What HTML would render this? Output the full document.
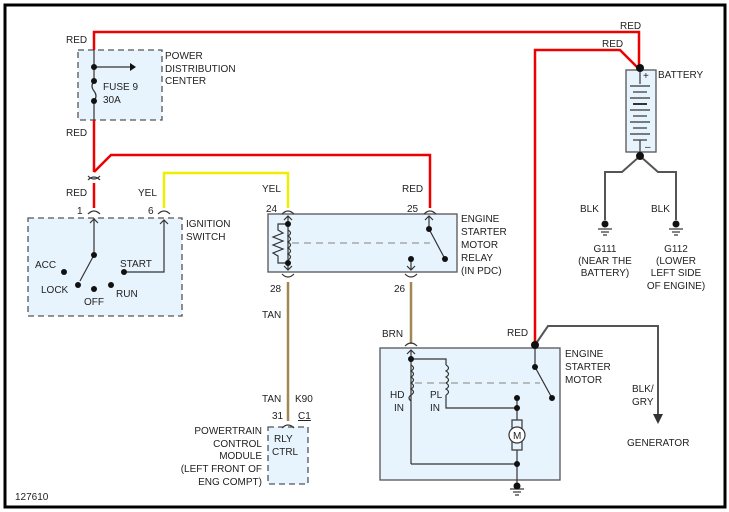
<!DOCTYPE html>
<html><head><meta charset="utf-8"><style>
html,body{margin:0;padding:0;background:#fff;width:729px;height:512px;overflow:hidden}
svg text{font-family:"Liberation Sans",sans-serif;font-size:10px;fill:#222}
</style></head><body>
<svg width="729" height="512" viewBox="0 0 729 512" xmlns="http://www.w3.org/2000/svg">
<rect x="5" y="5" width="720" height="502" fill="#fff" stroke="#000" stroke-width="3"/>
<!-- boxes -->
<g fill="#e8f4fd" stroke="#555" stroke-width="1.3" stroke-dasharray="6,4">
<rect x="78" y="50" width="84" height="70"/>
<rect x="28" y="218" width="154" height="98"/>
<rect x="268" y="427" width="40" height="57"/>
</g>
<g fill="#e8f4fd" stroke="#555" stroke-width="1.3">
<rect x="268" y="214" width="189" height="58"/>
<rect x="380" y="348" width="180" height="132"/>
<rect x="626" y="70" width="30" height="82"/>
</g>
<!-- red wires -->
<g fill="none" stroke="#e00" stroke-width="2.5">
<polyline points="94,50 94,32 639,32 639,70"/>
<polyline points="94,120 94,172"/>
<polyline points="94,172 111,155 430,155 430,208"/>
<polyline points="94,183 94,208"/>
<polyline points="535,345 535,50 620,50 638,68"/>
</g>
<polyline points="164,208 164,173 288,173 288,208" fill="none" stroke="#ee0" stroke-width="2.5"/>
<g stroke="#a08850" stroke-width="2.5" fill="none">
<line x1="288" y1="282" x2="288" y2="421"/>
<line x1="411" y1="282" x2="411" y2="344"/>
</g>
<!-- gray wires -->
<g fill="none" stroke="#555" stroke-width="2">
<polyline points="535,345 548,326 658,326 658,418"/>
<polyline points="640,156 622,172 605,172 605,220"/>
<polyline points="640,156 658,172 676,172 676,220"/>
</g>
<polygon points="653,414 663,414 658,424" fill="#333"/>
<!-- thin black internals -->
<g fill="none" stroke="#333" stroke-width="1.2">
<line x1="94" y1="50" x2="94" y2="81"/><line x1="94" y1="101" x2="94" y2="120"/>
<path d="M94,81 q-4,5 0,10 q4,5 0,10"/>
<line x1="94" y1="67" x2="130" y2="67"/>
<line x1="94" y1="218" x2="94" y2="255"/>
<line x1="94" y1="255" x2="80" y2="281"/>
<polyline points="124,272 164,272 164,220"/>
<polyline points="90,223 94,219 98,223"/><polyline points="160,224 164,220 168,224"/>
<!-- connector arcs -->
<path d="M88,180 q6,-6 12,0 M88,176 q6,6 12,0 M88,214 q6,-6 12,0 M158,214 q6,-6 12,0 M282,214 q6,-6 12,0 M424,214 q6,-6 12,0 M282,274 q6,6 12,0 M405,274 q6,6 12,0 M405,346 q6,-6 12,0 M282,428 q6,-6 12,0"/>
<!-- relay -->
<line x1="288" y1="216" x2="288" y2="270"/>
<polyline points="284,220 288,216 292,220"/><polyline points="284,266 288,270 292,266"/>
<path d="M288,230 q5,3 0,6 q5,3 0,6 q5,3 0,6 q5,3 0,6 q5,3 0,6"/>
<polyline points="288,224 278,224 278,230 283,233 273,237 283,241 273,245 283,249 273,253 278,256 278,263 288,263"/>
<line x1="292" y1="243" x2="430" y2="243" stroke="#999" stroke-dasharray="7,5"/>
<line x1="429" y1="216" x2="429" y2="229"/><polyline points="425,220 429,216 433,220"/>
<line x1="429" y1="229" x2="445" y2="259"/>
<line x1="411" y1="259" x2="411" y2="270"/><polyline points="407,266 411,270 415,266"/>
<!-- starter -->
<line x1="411" y1="350" x2="411" y2="464"/><polyline points="407,354 411,350 415,354"/>
<path d="M411,365 q5,3 0,6 q5,3 0,6 q5,3 0,6 q5,3 0,6 q5,3 0,6 q-4,3 0,6"/>
<polyline points="411,359 446,359 446,365"/>
<path d="M446,365 q5,3 0,6 q5,3 0,6 q5,3 0,6 q5,3 0,6 q5,3 0,6"/>
<polyline points="446,395 446,408 517,408"/>
<line x1="517" y1="398" x2="517" y2="425"/>
<rect x="512" y="420" width="10" height="30" fill="#e8f4fd"/>
<circle cx="517" cy="435" r="8" fill="#fff"/>
<line x1="517" y1="450" x2="517" y2="486"/>
<polyline points="411,464 517,464"/>
<line x1="415" y1="383" x2="540" y2="383" stroke="#999" stroke-dasharray="7,5"/>
<line x1="535" y1="345" x2="535" y2="367"/><line x1="535" y1="367" x2="552" y2="398"/>
<!-- battery -->
<line x1="640" y1="70" x2="640" y2="84"/><line x1="640" y1="140" x2="640" y2="156"/>
</g>
<text x="513" y="439" font-size="11">M</text>
<polygon points="130,63 136,67 130,71" fill="#111"/>
<g stroke="#333" stroke-width="1.2">
<line x1="630" y1="86" x2="650" y2="86"/><line x1="633" y1="92" x2="647" y2="92"/>
<line x1="630" y1="98" x2="650" y2="98"/><line x1="633" y1="104" x2="647" y2="104" stroke-width="2"/>
<line x1="630" y1="110" x2="650" y2="110"/><line x1="633" y1="116" x2="647" y2="116"/>
<line x1="630" y1="122" x2="650" y2="122"/><line x1="633" y1="128" x2="647" y2="128"/>
<line x1="630" y1="134" x2="650" y2="134"/><line x1="633" y1="140" x2="647" y2="140"/>
<!-- grounds -->
<line x1="598" y1="229" x2="612" y2="229"/><line x1="601" y1="232" x2="609" y2="232"/><line x1="603" y1="235" x2="607" y2="235"/>
<line x1="669" y1="229" x2="683" y2="229"/><line x1="672" y1="232" x2="680" y2="232"/><line x1="674" y1="235" x2="678" y2="235"/>
<line x1="510" y1="489" x2="524" y2="489"/><line x1="513" y1="492" x2="521" y2="492"/><line x1="515" y1="495" x2="519" y2="495"/>
</g>
<text x="643" y="79" font-size="9">+</text><text x="645" y="150" font-size="9">–</text>
<!-- dots -->
<g fill="#111">
<circle cx="94" cy="67" r="3"/><circle cx="94" cy="81" r="3"/><circle cx="94" cy="101" r="3"/>
<circle cx="94" cy="255" r="3"/><circle cx="78" cy="285" r="3"/><circle cx="64" cy="272" r="3"/>
<circle cx="94" cy="289" r="3"/><circle cx="111" cy="285" r="3"/><circle cx="124" cy="272" r="3"/>
<circle cx="288" cy="224" r="3"/><circle cx="288" cy="263" r="3"/>
<circle cx="429" cy="229" r="3"/><circle cx="445" cy="259" r="3"/><circle cx="411" cy="259" r="3"/>
<circle cx="411" cy="359" r="3"/><circle cx="517" cy="398" r="3"/><circle cx="517" cy="408" r="3"/>
<circle cx="517" cy="464" r="3"/><circle cx="517" cy="486" r="3.5"/>
<circle cx="535" cy="345" r="4"/><circle cx="535" cy="367" r="3"/><circle cx="552" cy="398" r="3"/>
<circle cx="640" cy="68" r="4"/><circle cx="640" cy="156" r="4"/>
<circle cx="605" cy="224" r="3.5"/><circle cx="676" cy="224" r="3.5"/>
</g>
<!-- labels -->
<text x="66" y="43">RED</text><text x="66" y="136">RED</text><text x="66" y="196">RED</text>
<text x="165" y="59">POWER</text><text x="165" y="72">DISTRIBUTION</text><text x="165" y="84">CENTER</text>
<text x="103" y="90">FUSE 9</text><text x="103" y="103">30A</text>
<text x="77" y="214">1</text><text x="148" y="214">6</text><text x="138" y="196">YEL</text>
<text x="186" y="227">IGNITION</text><text x="186" y="240">SWITCH</text>
<text x="35" y="268">ACC</text><text x="41" y="293">LOCK</text><text x="84" y="305">OFF</text>
<text x="116" y="297">RUN</text><text x="120" y="267">START</text>
<text x="262" y="192">YEL</text><text x="266" y="212">24</text><text x="402" y="192">RED</text><text x="407" y="212">25</text>
<text x="461" y="222">ENGINE</text><text x="461" y="235">STARTER</text><text x="461" y="248">MOTOR</text>
<text x="461" y="261">RELAY</text><text x="461" y="274">(IN PDC)</text>
<text x="270" y="292">28</text><text x="394" y="292">26</text>
<text x="262" y="318">TAN</text><text x="382" y="337">BRN</text><text x="507" y="336">RED</text>
<text x="262" y="402">TAN</text><text x="295" y="402">K90</text>
<text x="272" y="419">31</text><text x="298" y="419" text-decoration="underline">C1</text>
<text x="274" y="442">RLY</text><text x="272" y="455">CTRL</text>
<g text-anchor="end"><text x="262" y="434">POWERTRAIN</text><text x="262" y="447">CONTROL</text><text x="262" y="459">MODULE</text><text x="262" y="472">(LEFT FRONT OF</text><text x="262" y="485">ENG COMPT)</text></g>
<text x="390" y="398">HD</text><text x="394" y="411">IN</text><text x="430" y="398">PL</text><text x="430" y="411">IN</text>
<text x="565" y="357">ENGINE</text><text x="565" y="370">STARTER</text><text x="565" y="383">MOTOR</text>
<text x="632" y="392">BLK/</text><text x="632" y="405">GRY</text><text x="627" y="446">GENERATOR</text>
<text x="620" y="29">RED</text><text x="602" y="47">RED</text><text x="658" y="78">BATTERY</text>
<text x="580" y="212">BLK</text><text x="651" y="212">BLK</text>
<g text-anchor="middle"><text x="605" y="252">G111</text><text x="605" y="264">(NEAR THE</text><text x="605" y="276">BATTERY)</text>
<text x="676" y="252">G112</text><text x="676" y="264">(LOWER</text><text x="676" y="276">LEFT SIDE</text><text x="676" y="289">OF ENGINE)</text></g>
<text x="15" y="500">127610</text>
</svg>
</body></html>
